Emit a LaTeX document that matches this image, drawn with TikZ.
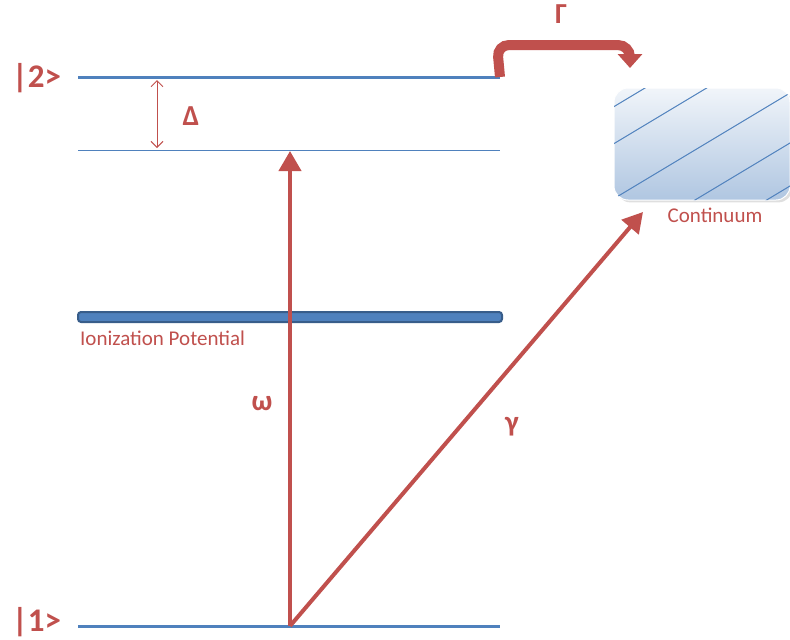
\documentclass[tikz,border=0pt]{standalone}
\usepackage{fontspec}
\setmainfont{Carlito}
\usetikzlibrary{arrows.meta,shadows}

\definecolor{ored}{HTML}{C0504D}
\definecolor{oblue}{HTML}{4F81BD}
\definecolor{odarkblue}{HTML}{385D8A}

\begin{document}
\begin{tikzpicture}[x=1pt,y=-1pt]
        \tikzstyle{level}=[oblue, line width=3pt]
        \tikzstyle{state}=[ored, font=\fontsize{33}{33}\selectfont\bfseries, inner sep=0pt]
        \tikzstyle{greek}=[ored, font=\fontsize{29}{29}\selectfont\bfseries, inner sep=0pt]
        \tikzstyle{note}=[ored, font=\fontsize{21}{21}\selectfont, inner sep=0pt]
        \tikzstyle{photon}=[ored, line width=4pt, -{Triangle[width=22pt,length=20pt]}]

        \useasboundingbox (0,0) rectangle (790,640);

            % energy levels
            \coordinate (2L) at (78,77);
            \coordinate (2R) at (500,77);
            \coordinate (dL) at (78,150);
            \coordinate (dR) at (500,150);
            \coordinate (1L) at (78,626);
            \coordinate (1R) at (500,626);
            \coordinate (base) at (290,626);
            \coordinate (top) at (290,151);
            \coordinate (dtop) at (157,80);
            \coordinate (dbot) at (157,148);

            \draw[level] (2L) -- (2R);
            \draw[oblue, line width=1pt] (dL) -- (dR);
            \draw[level] (1L) -- (1R);

            % ionization potential bar
            \draw[odarkblue, fill=oblue, line width=2pt, rounded corners=3pt]
                (78,312) rectangle (502,322);
            \node[note, anchor=north west] (ip) at (80,331) {Ionization Potential};

            % continuum
            \node[draw=white, line width=1pt, rounded corners=14pt, minimum width=176pt, minimum height=112pt,
                  top color=oblue!8, bottom color=oblue!45, drop shadow={opacity=0.25}]
                (cont) at (702,144) {};
            \begin{scope}
                \clip[rounded corners=14pt] (614,88) rectangle (790,200);
                \foreach \c in {475,512,567,617,660}
                \draw[oblue, line width=1pt] (600,\c-360) -- (800,\c-480);
            \end{scope}
            \node[note, anchor=north] (contlabel) at (715,208) {Continuum};

            % labels
            \node[state, anchor=west] (k2) at (12,78) {|2>};
            \node[state, anchor=west] (k1) at (12,622) {|1>};
            \node[greek] (delta) at (191,116) {Δ};
            \node[greek] (omega) at (262,404) {ω};
            \node[greek] (gamma) at (512,427) {γ};
            \node[greek] (Gamma) at (561,14) {Γ};

            % transitions
            \draw[ored, line width=1pt, {Straight Barb[length=6pt,width=12pt]}-{Straight Barb[length=6pt,width=12pt]}]
                (dtop) -- (dbot);
            \draw[photon] (base) -- (top);
            \draw[photon] (base) -- (643,212);

            % decay into the continuum
            \draw[ored, line width=10pt, rounded corners=12pt, -{Triangle[width=24pt,length=14pt]}]
                (2R) -- (497,45) -- (630,45) -- (630,68);

        \end{tikzpicture}
\end{document}
